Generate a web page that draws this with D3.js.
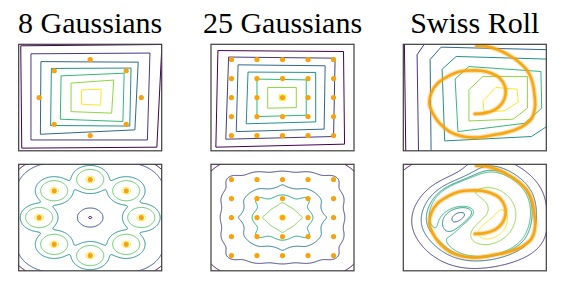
<!DOCTYPE html>
<html><head><meta charset="utf-8">
<script src="https://cdn.jsdelivr.net/npm/d3@7"></script>
<style>body{margin:0;background:#fff}svg{display:block}</style>
</head><body>
<svg id="chart" width="566" height="285"></svg>
<script>
// ---------------- data ----------------
const titles = ["8 Gaussians", "25 Gaussians", "Swiss Roll"];
const gauss8 = [[2,0],[-2,0],[0,2],[0,-2],[1.41,1.41],[1.41,-1.41],[-1.41,1.41],[-1.41,-1.41]];
const gauss25X = [-2,-1,0,1,2];
const gauss25Y = [-2,-1,0,1,2];
const swissRoll = [[0.0,-0.86],[0.39,-0.82],[0.78,-0.65],[1.07,-0.30],[1.20,0.14],[1.18,0.58],[0.98,1.02],[0.65,1.28],[0.26,1.41],[-0.20,1.42],[-0.66,1.34],[-1.06,1.11],[-1.45,0.76],[-1.71,0.23],[-1.78,-0.30],[-1.65,-0.82],[-1.38,-1.35],[-0.99,-1.79],[-0.46,-2.05],[0.13,-2.10],[0.78,-1.96],[1.37,-1.79],[1.90,-1.49],[2.23,-1.09],[2.36,-0.47],[2.33,0.23],[2.23,0.93],[2.03,1.46],[1.70,1.90],[1.31,2.25],[0.91,2.51],[0.45,2.69],[0.06,2.72]];

// top row: learned contour lines (outer -> inner), data coordinates
const top8 = [
  [[-2.72,2.72],[2.81,2.79],[2.61,-2.61],[-2.68,-2.66]],
  [[-2.32,2.30],[2.34,2.34],[2.24,-2.23],[-2.32,-2.23]],
  [[-1.93,1.89],[1.88,1.86],[1.75,-1.70],[-1.95,-1.93]],
  [[-1.52,1.53],[1.60,1.55],[1.55,-1.50],[-1.55,-1.47]],
  [[-1.14,1.14],[1.33,1.28],[1.28,-1.26],[-1.17,-1.14]],
  [[-0.75,0.76],[0.92,0.92],[0.84,-0.82],[-0.75,-0.74]],
  [[-0.34,0.40],[0.43,0.44],[0.41,-0.40],[-0.34,-0.35]]
];
const top25 = [
  [[-2.53,2.47],[2.39,2.42],[2.43,-2.45],[-2.61,-2.61]],
  [[-2.11,2.13],[2.06,2.07],[2.00,-2.05],[-2.22,-2.19]],
  [[-1.74,1.72],[1.67,1.67],[1.63,-1.66],[-1.81,-1.79]],
  [[-1.35,1.34],[1.30,1.32],[1.30,-1.28],[-1.42,-1.38]],
  [[-1.00,0.97],[0.93,0.93],[0.93,-0.93],[-1.00,-1.00]],
  [[-0.58,0.53],[0.54,0.53],[0.54,-0.53],[-0.58,-0.56]],
  [[-0.12,0.14],[0.12,0.14],[0.12,-0.14],[-0.12,-0.14]]
];
const topSwiss = [
  [[-2.76,3.2],[3.2,3.2],[3.2,-3.2],[-2.70,-3.2]],
  [[-2.26,2.25],[-1.95,2.86],[-1.6,3.2],[3.2,3.2],[3.2,-3.2],[-2.2,-3.2]],
  [[-1.75,2.0],[-1.32,2.65],[3.0,2.51],[3.0,-3.0],[-1.71,-3.0]],
  [[-1.28,1.49],[-0.73,2.16],[2.9,2.02],[2.9,-1.45],[2.22,-2.05],[-1.18,-2.28]],
  [[-0.77,0.98],[-0.23,1.63],[2.59,1.37],[2.62,-0.56],[1.96,-1.35],[-0.66,-1.79]],
  [[-0.23,0.41],[0.32,1.11],[2.06,1.11],[2.06,-0.56],[1.50,-1.14],[-0.23,-1.23]],
  [[0.32,-0.17],[0.82,0.53],[1.66,0.44],[1.70,-0.24],[1.15,-0.70],[0.36,-0.75]]
];

// bottom row: points each contour level passes through
const levels8 = [[0.06,0],[0.5,0],[-2.74,0],[2.53,0],[2.17,0]];
const levels25 = [[-2.68,2.58],[-2.44,0],[-1.72,0],[-1.19,0],[-0.78,0],[-0.13,0]];
const levelsSwiss = [[-2.70,2.58],[-2.47,-0.14],[-2.10,-0.14],[-1.25,-0.14],[-0.07,0.38],[0.52,0.38],[0.98,0.38]];
const softness8 = 0.1;
const ripple25 = {width: 0.28, amp: 0.4, power: 3};
const bandwidthSwiss = 0.64;

// ---------------- layout ----------------
const svg = d3.select("#chart");
const PX = [18.7, 211, 403.3], PY = [44.3, 164.3], PW = 143, PH = 106.5;
const DOM = [-2.8, 2.8];
const DOT = "#f6a30c";

titles.forEach((t, i) => {
  svg.append("text").attr("x", PX[i] + PW / 2).attr("y", 33)
    .attr("text-anchor", "middle")
    .attr("font-family", "'Liberation Serif','Times New Roman',serif")
    .attr("font-size", 30).attr("fill", "#000").text(t);
});

function panel(col, row) {
  const x = d3.scaleLinear(DOM, [PX[col], PX[col] + PW]);
  const y = d3.scaleLinear(DOM, [PY[row] + PH, PY[row]]);
  const id = `clip${col}${row}`;
  svg.append("clipPath").attr("id", id).append("rect")
    .attr("x", PX[col]).attr("y", PY[row]).attr("width", PW).attr("height", PH);
  const g = svg.append("g");
  const inner = g.append("g").attr("clip-path", `url(#${id})`);
  return {x, y, g, inner, col, row};
}
function frame(p) {
  p.g.append("rect").attr("x", PX[p.col]).attr("y", PY[p.row]).attr("width", PW).attr("height", PH)
    .attr("fill", "none").attr("stroke", "#3c3c3c").attr("stroke-width", 1.2);
}
function polyContours(p, polys) {
  const line = d3.line().x(d => p.x(d[0])).y(d => p.y(d[1])).curve(d3.curveLinearClosed);
  p.inner.selectAll(null).data(polys).join("path")
    .attr("d", line).attr("fill", "none").attr("stroke-width", 1)
    .attr("stroke", (d, i) => d3.interpolateViridis(i / (polys.length - 1)));
}
function fieldContours(p, f, anchors) {
  const EXT = 3.3, N = 230, step = 2 * EXT / (N - 1);
  const values = new Float64Array(N * N);
  for (let j = 0; j < N; j++) for (let i = 0; i < N; i++)
    values[j * N + i] = f(-EXT + i * step, EXT - j * step);
  const path = d3.geoPath(d3.geoTransform({point(gx, gy) {
    this.stream.point(p.x(-EXT + (gx - 0.5) * step), p.y(EXT - (gy - 0.5) * step));
  }}));
  const gen = d3.contours().size([N, N]);
  const levels = anchors.map(a => f(a[0], a[1])).sort(d3.ascending);
  levels.forEach((lv, k) => {
    p.inner.append("path").attr("d", path(gen.contour(values, lv))).attr("fill", "none").attr("stroke-width", 1)
      .attr("stroke", d3.interpolateViridis(k / (levels.length - 1)));
  });
}
// smooth nearest-distance field
function softNearest(centers, t) {
  return (x, y) => {
    let sum = 0;
    for (const c of centers) sum += Math.exp(-Math.hypot(x - c[0], y - c[1]) / t);
    return Math.log(sum + 1e-300);
  };
}
// kernel density along the roll; inner turns are denser (weight ~ 1/radius)
function rollDensity(pts, s) {
  const k = 1 / (2 * s * s);
  const w = pts.map(c => 1 / Math.hypot(c[0], c[1]));
  return (x, y) => {
    let sum = 0;
    pts.forEach((c, i) => { const dx = x - c[0], dy = y - c[1]; sum += w[i] * Math.exp(-(dx * dx + dy * dy) * k); });
    return Math.log(sum + 1e-300);
  };
}
function rippledBowl(centers, o) {
  const k = 1 / (2 * o.width * o.width);
  return (x, y) => {
    let sum = 0;
    for (const c of centers) { const dx = x - c[0], dy = y - c[1]; sum += Math.exp(-(dx * dx + dy * dy) * k); }
    const r = Math.pow(Math.pow(Math.abs(x), o.power) + Math.pow(Math.abs(y), o.power), 1 / o.power);
    return o.amp * sum - r;
  };
}
function dots(p, pts) {
  p.inner.selectAll(null).data(pts).join("circle")
    .attr("cx", d => p.x(d[0])).attr("cy", d => p.y(d[1])).attr("r", 2.6).attr("fill", DOT);
}
function roll(p) {
  const line = d3.line().x(d => p.x(d[0])).y(d => p.y(d[1])).curve(d3.curveCatmullRom.alpha(0.5));
  p.inner.append("path").attr("d", line(swissRoll)).attr("fill", "none")
    .attr("stroke", DOT).attr("stroke-width", 5).attr("stroke-opacity", 0.35).attr("stroke-linecap", "round");
  p.inner.append("path").attr("d", line(swissRoll)).attr("fill", "none")
    .attr("stroke", DOT).attr("stroke-width", 2.6).attr("stroke-opacity", 0.95).attr("stroke-linecap", "round");
}

const gauss25 = d3.cross(gauss25X, gauss25Y);

// top row
let p = panel(0, 0); polyContours(p, top8); dots(p, gauss8); frame(p);
p = panel(1, 0); polyContours(p, top25); dots(p, gauss25); frame(p);
p = panel(2, 0); polyContours(p, topSwiss); roll(p); frame(p);

// bottom row
p = panel(0, 1); fieldContours(p, softNearest(gauss8, softness8), levels8); dots(p, gauss8); frame(p);
p = panel(1, 1); fieldContours(p, rippledBowl(gauss25, ripple25), levels25); dots(p, gauss25); frame(p);
p = panel(2, 1); fieldContours(p, rollDensity(swissRoll, bandwidthSwiss), levelsSwiss); roll(p); frame(p);
</script>
</body></html>
